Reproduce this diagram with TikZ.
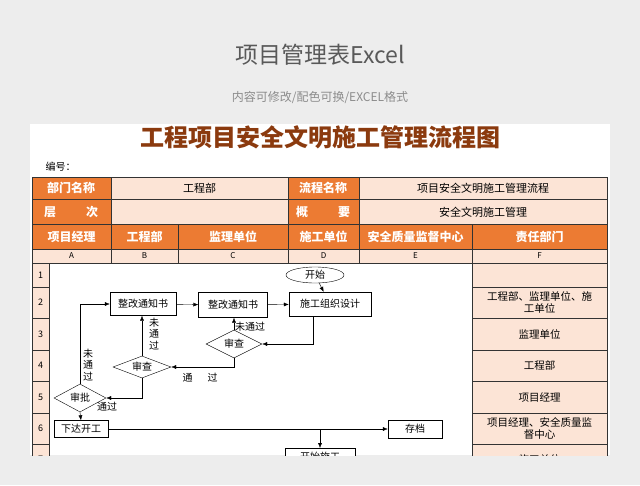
\documentclass[tikz,border=0pt]{standalone}
\usepackage{fontspec}
\setmainfont{Noto Sans CJK SC}
\usetikzlibrary{shapes.geometric,arrows.meta}
\definecolor{org}{HTML}{EC7B33}
\definecolor{pnk}{HTML}{FCE4D6}
\definecolor{brn}{HTML}{8B3A0E}
\tikzset{
 hd/.style={fill=org,draw=black!80,line width=0.8pt},
 lt/.style={fill=pnk,draw=black!80,line width=0.8pt},
 hdtext/.style={text=white,font=\fontsize{12}{14}\selectfont\bfseries},
 box/.style={draw,thin,fill=white,inner sep=3pt,font=\fontsize{10}{12}\selectfont},
 dia/.style={draw,thin,diamond,aspect=2.2,inner sep=0pt,fill=white,font=\fontsize{10}{12}\selectfont},
 lab/.style={font=\fontsize{10}{12}\selectfont},
 arr/.style={-{Latex[length=5pt,width=4pt]},thin}
}
\begin{document}
\begin{tikzpicture}[x=1pt,y=-1pt]
\fill[black!7] (0,0) rectangle (640,485);
\useasboundingbox (0,0) rectangle (640,485);
\node[text=black!65,font=\fontsize{23}{25}\selectfont] at (320,55) {项目管理表Excel};
\node[text=black!45,font=\fontsize{12}{14}\selectfont] at (320,97) {内容可修改/配色可换/EXCEL格式};
%
\begin{scope}
\clip (30,124) rectangle (610,455);
\fill[white] (30,124) rectangle (610,455);
\node[text=brn,font=\fontsize{24}{26}\selectfont\bfseries] at (320,137) {工程项目安全文明施工管理流程图};
\node[font=\fontsize{10}{12}\selectfont,anchor=west] at (42,167) {编号：};
%header rows
\foreach \xa/\xb/\st in {32/111/hd,111/288/lt,288/359/hd,359/607/lt}
 {\draw[\st] (\xa,177) rectangle (\xb,199);
  \draw[\st] (\xa,199) rectangle (\xb,224);}
\node[font=\fontsize{11}{13}\selectfont] at (199.5,188) {工程部};
\node[font=\fontsize{11}{13}\selectfont] at (483,188) {项目安全文明施工管理流程};
\node[font=\fontsize{11}{13}\selectfont] at (483,212) {安全文明施工管理};
\node[hdtext] at (71,188) {部门名称};
\node[hdtext] at (323,188) {流程名称};
\node[hdtext] at (71,212) {层\hspace{2.5em}次};
\node[hdtext] at (323,212) {概\hspace{2.5em}要};
\foreach \xa/\xb/\t/\c in {32/111/项目经理/A,111/178/工程部/B,178/288/监理单位/C,288/359/施工单位/D,359/472/安全质量监督中心/E,472/607/责任部门/F}
 {\draw[hd] (\xa,224) rectangle (\xb,249);
  \node[hdtext] at ({(\xa+\xb)/2},237) {\t};
  \draw[lt,line width=0.5pt] (\xa,249) rectangle (\xb,263);
  \node[font=\fontsize{8}{10}\selectfont] at ({(\xa+\xb)/2},256) {\c};}
%body rows
\draw[black!80,line width=0.8pt] (32,263) rectangle (472,470);
\foreach \ya/\yb/\n/\t in {263/287/1/{},287/318/2/{工程部、监理单位、施\\工单位},318/350/3/监理单位,350/381/4/工程部,381/413/5/项目经理,413/444/6/{项目经理、安全质量监\\督中心},444/475/7/{施工单位}}
 {\draw[lt,line width=0.5pt] (32,\ya) rectangle (49,\yb);
  \node[font=\fontsize{9}{11}\selectfont] at (40.5,{(\ya+\yb)/2}) {\n};
  \draw[lt] (472,\ya) rectangle (607,\yb);
  \node[align=center,font=\fontsize{10.5}{12}\selectfont] at (539.5,{(\ya+\yb)/2}) {\t};}
%
\node[draw,thin,ellipse,minimum width=58,minimum height=16,inner sep=0pt,fill=white,font=\fontsize{10}{12}\selectfont] (start) at (315,275) {开始};
\node[box,minimum width=82,minimum height=24] (design) at (330,304) {施工组织设计};
\node[box,minimum width=69,minimum height=25] (notice2) at (233,305) {整改通知书};
\node[box,minimum width=66,minimum height=23] (notice1) at (143,304) {整改通知书};
\node[dia,minimum width=56,minimum height=28] (check1) at (234,344) {审查};
\node[dia,minimum width=58,minimum height=22] (check2) at (142,367) {审查};
\node[dia,minimum width=52,minimum height=28] (approve) at (80,398) {审批};
\node[box,minimum width=54,minimum height=17] (go) at (81,429) {下达开工};
\node[box,minimum width=54,minimum height=18] (archive) at (415,429) {存档};
\node[box,minimum width=70,minimum height=18,anchor=north] (build) at (320,448) {开始施工};
%
\draw[arr] (start) -- (design);
\draw[arr] (notice1) -- (notice2);
\draw[arr] (notice2) -- (design);
\draw[arr] (design.south -| 313,0) |- (check1.east);
\draw[arr] (check1.north) -- (notice2.south -| check1.north);
\draw[arr] (check1.south) |- (check2.east);
\draw[arr] (check2.north) -- (notice1.south -| check2.north);
\draw[arr] (check2.south) |- (approve.east);
\draw[arr] (approve.north) |- (notice1.west);
\draw[arr] (approve.south) -- (go.north);
\draw[arr] (go.east) -- (archive.west);
\coordinate (fork) at (build.north |- go.east);
\draw[arr] (fork) -- (build.north);
%
\node[lab] at (250,327) {未通过};
\node[lab] at (200,378) {通\hspace{1.5em}过};
\node[lab,align=center,font=\fontsize{10}{11.5}\selectfont] at (154,334) {未\\通\\过};
\node[lab,align=center,font=\fontsize{10}{11.5}\selectfont] at (88,365) {未\\通\\过};
\node[lab] at (107,407) {通过};
\end{scope}
\end{tikzpicture}
\end{document}
